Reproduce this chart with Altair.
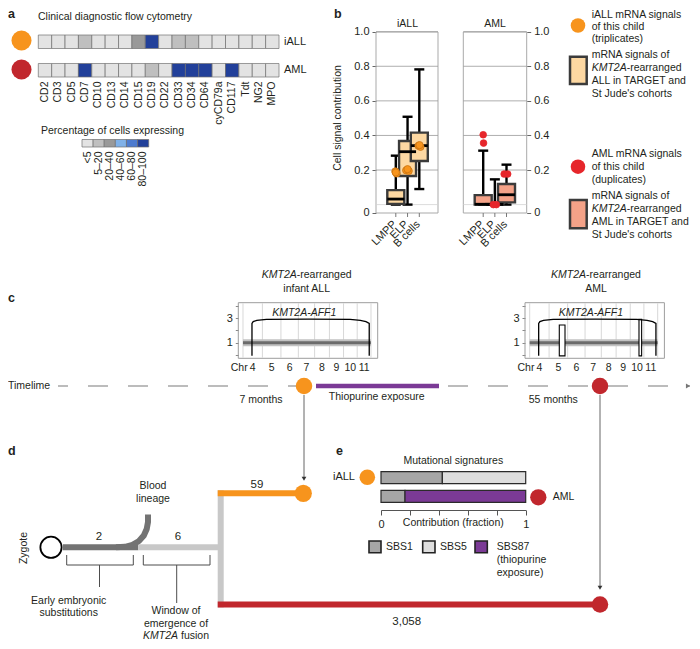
import math
import altair as alt
import pandas as pd

W, H = 684, 633          # drawing area (page has an 8px margin)
M = 8
FONT = "Liberation Sans"
INK = "#231f20"
ORANGE = "#f7941d"
RED = "#c1272d"
RED_B = "#e6262b"
PURPLE = "#7b3a96"

# ---------------------------------------------------------------- data
MARKERS = ["CD2", "CD3", "CD5", "CD7", "CD10", "CD13", "CD14", "CD15", "CD19", "CD22",
           "CD33", "CD34", "CD64", "cyCD79a", "CD117", "Tdt", "NG2", "MPO"]
FLOW_LEVELS = ["<5", "5–20", "20–40", "40–60", "60–80", "80–100"]
FLOW_COLORS = ["#e3e3e3", "#bfbfbf", "#999999", "#80b1e8", "#4d7bcf", "#22409a"]
FLOW_IALL = ["<5", "<5", "<5", "5–20", "<5", "<5", "<5", "20–40", "80–100", "<5",
             "5–20", "5–20", "<5", "<5", "<5", "<5", "<5", "<5"]
FLOW_AML = ["<5", "<5", "<5", "80–100", "<5", "<5", "<5", "<5", "5–20", "<5",
            "80–100", "80–100", "80–100", "<5", "80–100", "<5", "<5", "<5"]
SAMPLES = ["iALL", "AML"]

CELL_TYPES = ["LMPP", "ELP", "B cells"]
IALL_LO = [0.0, 0.0, 0.09]
IALL_Q1 = [0.004, 0.165, 0.252]
IALL_MED = [0.032, 0.306, 0.341]
IALL_Q3 = [0.084, 0.368, 0.416]
IALL_HI = [0.283, 0.508, 0.782]
AML_LO = [0.0, 0.0, 0.0]
AML_Q1 = [0.0, 0.0, 0.013]
AML_MED = [0.002, 0.001, 0.057]
AML_Q3 = [0.055, 0.003, 0.119]
AML_HI = [0.312, 0.146, 0.231]
IALL_PT_CELL = [0, 0, 0, 1, 1, 1, 2, 2, 2]
IALL_PT_VAL = [0.192, 0.180, 0.186, 0.198, 0.195, 0.205, 0.340, 0.334, 0.344]
IALL_PT_JIT = [-0.04, 0.06, 0.0, -0.12, 0.10, 0.0, -0.07, 0.10, 0.02]
AML_PT_CELL = [0, 0, 1, 1, 2, 2]
AML_PT_VAL = [0.404, 0.356, 0.0, 0.0, 0.177, 0.177]
AML_PT_JIT = [0.0, 0.03, -0.13, 0.13, -0.20, 0.10]
B_GRID = [0.2, 0.4, 0.6, 0.8, 1.0]

CHROMS = ["4", "5", "6", "7", "8", "9", "10", "11"]
CHROM_MB = [190.2, 181.5, 170.8, 159.3, 145.1, 138.4, 133.8, 135.1]
ARC_MB = [88, 88, 100, 135, 230, 640, 1050, 1150, 1205, 1237, 1237]
ARC_CN = [-0.08, 2.58, 2.72, 2.83, 2.90, 2.93, 2.90, 2.83, 2.72, 2.58, -0.08]
AML_SV_START = [290, 1071]
AML_SV_END = [346, 1097]
AML_SV_TOP = [2.45, 2.92]

SIGS = ["SBS1", "SBS5", "SBS87"]
SIG_COLORS = ["#a6a6a6", "#dedede", "#7b3a96"]
IALL_SIG = [0.424, 0.576, 0.0]
AML_SIG = [0.166, 0.0, 0.834]

TREE_COUNTS = [2, 6, 59, 3058]


def c(v):
    return v - M


# ------------------------------------------------ canvas helpers (layout)
def CX(f="x"):
    return alt.X(f"{f}:Q", scale=alt.Scale(domain=[M, M + W], range=[0, W], nice=False, zero=False), axis=None)


def CY(f="y"):
    return alt.Y(f"{f}:Q", scale=alt.Scale(domain=[M, M + H], range=[0, H], nice=False, zero=False), axis=None)


def text_layer(rows, align="left", size=10.5, style="normal", weight="normal", angle=0,
               color=INK, baseline="middle"):
    df = pd.DataFrame(rows, columns=["t", "x", "y"])
    return alt.Chart(df).mark_text(align=align, baseline=baseline, font=FONT, fontSize=size,
                                   fontStyle=style, fontWeight=weight, angle=angle,
                                   color=color).encode(x=CX(), y=CY(), text="t:N")


def seg_layer(rows, **kw):
    df = pd.DataFrame(rows, columns=["x", "y", "x2", "y2", "col", "w"])
    return alt.Chart(df).mark_rule(**kw).encode(
        x=CX(), y=CY(), x2="x2:Q", y2="y2:Q",
        color=alt.Color("col:N", scale=None),
        strokeWidth=alt.StrokeWidth("w:Q", scale=None))


def rect_layer(rows):
    df = pd.DataFrame(rows, columns=["x", "y", "x2", "y2", "fill", "stroke", "sw"])
    return alt.Chart(df).mark_rect().encode(
        x=CX(), y=CY(), x2="x2:Q", y2="y2:Q",
        fill=alt.Fill("fill:N", scale=None),
        stroke=alt.Stroke("stroke:N", scale=None),
        strokeWidth=alt.StrokeWidth("sw:Q", scale=None))


def dot_layer(rows, shape="circle"):
    df = pd.DataFrame(rows, columns=["x", "y", "r", "fill", "stroke", "sw"])
    df["s"] = math.pi * df["r"] ** 2
    return alt.Chart(df).mark_point(shape=shape, filled=True, opacity=1).encode(
        x=CX(), y=CY(),
        size=alt.Size("s:Q", scale=None),
        fill=alt.Fill("fill:N", scale=None),
        stroke=alt.Stroke("stroke:N", scale=None),
        strokeWidth=alt.StrokeWidth("sw:Q", scale=None))


# ---------------------------------------------------------------- panel a
flow_color = alt.Color("level:N", scale=alt.Scale(domain=FLOW_LEVELS, range=FLOW_COLORS), legend=None)
heat_df = pd.DataFrame({"marker": MARKERS * 2,
                        "sample": ["iALL"] * len(MARKERS) + ["AML"] * len(MARKERS),
                        "level": FLOW_IALL + FLOW_AML})
heat_x = alt.X("marker:N", scale=alt.Scale(domain=MARKERS, range=[c(38.3), c(279)],
                                           paddingInner=0, paddingOuter=0), axis=None)
heat_y = alt.Y("sample:N", scale=alt.Scale(domain=SAMPLES, range=[c(35), c(77)],
                                           paddingInner=0.526, paddingOuter=0), axis=None)
heat_cells = alt.Chart(heat_df).mark_rect(stroke="#707070", strokeWidth=0.7).encode(
    x=heat_x, y=heat_y, color=flow_color)
heat_marker_lbl = alt.Chart(pd.DataFrame({"marker": MARKERS})).mark_text(
    angle=270, align="right", baseline="middle", font=FONT, fontSize=10.5, color=INK).encode(
    x=heat_x, y=alt.value(c(81.5)), text="marker:N")
heat_row_lbl = alt.Chart(pd.DataFrame({"sample": SAMPLES})).mark_text(
    align="left", baseline="middle", font=FONT, fontSize=11, color=INK).encode(
    x=alt.value(c(284)), y=heat_y, text="sample:N")
heat = alt.layer(heat_cells, heat_marker_lbl, heat_row_lbl)

leg_x = alt.X("level:N", scale=alt.Scale(domain=FLOW_LEVELS, range=[c(82), c(148.7)],
                                         paddingInner=0, paddingOuter=0), axis=None)
leg_df = pd.DataFrame({"level": FLOW_LEVELS})
heat_leg = alt.layer(
    alt.Chart(leg_df).mark_rect(stroke="#707070", strokeWidth=0.7).encode(
        x=leg_x, y=alt.value(c(139.5)), y2=alt.value(c(147)), color=flow_color),
    alt.Chart(leg_df).mark_text(angle=270, align="right", baseline="middle", font=FONT,
                                fontSize=10.5, color=INK).encode(
        x=leg_x, y=alt.value(c(151.5)), text="level:N"),
)

# ---------------------------------------------------------------- panel b
YB = alt.Scale(domain=[-0.048, 1.0], range=[c(212.9), c(31.7)], nice=False, zero=False)


def box_panel(lo, q1, med, q3, hi, pc, pv, pj, xr, frame_x, fill, pfill, pstroke, psize):
    xs = alt.Scale(domain=[0, 2], range=xr, nice=False, zero=False)
    bdf = pd.DataFrame({"i": [0, 1, 2], "cell": CELL_TYPES, "lo": lo, "q1": q1,
                        "med": med, "q3": q3, "hi": hi})
    X = alt.X("i:Q", scale=xs, axis=None)

    def Y(f):
        return alt.Y(f"{f}:Q", scale=YB, axis=None)

    grid = alt.Chart(pd.DataFrame({"v": B_GRID})).mark_rule(color="#9a9a9a", strokeWidth=0.8).encode(
        y=Y("v"), x=alt.value(c(frame_x[0])), x2=alt.value(c(frame_x[1])))
    zero = alt.Chart(pd.DataFrame({"v": [0.0]})).mark_rule(color="#d2d2d2", strokeWidth=0.8).encode(
        y=Y("v"), x=alt.value(c(frame_x[0])), x2=alt.value(c(frame_x[1])))
    xt = alt.Chart(bdf).mark_rule(color="#777", strokeWidth=1).encode(
        x=X, y=alt.value(c(213)), y2=alt.value(c(217)))
    whisk = alt.Chart(bdf).mark_rule(color="black", strokeWidth=2.4).encode(x=X, y=Y("lo"), y2="hi:Q")
    cap_lo = alt.Chart(bdf).mark_tick(orient="horizontal", size=10, thickness=2.4, color="black",
                                      opacity=1).encode(x=X, y=Y("lo"))
    cap_hi = alt.Chart(bdf).mark_tick(orient="horizontal", size=10, thickness=2.4, color="black",
                                      opacity=1).encode(x=X, y=Y("hi"))
    box = alt.Chart(bdf).mark_bar(width=17, fill=fill, stroke="#3b3b3b", strokeWidth=2.4).encode(
        x=X, y=Y("q1"), y2="q3:Q")
    medt = alt.Chart(bdf).mark_tick(orient="horizontal", size=17, thickness=2.8, color="black",
                                    opacity=1).encode(x=X, y=Y("med"))
    pdf = pd.DataFrame({"xi": [a + b for a, b in zip(pc, pj)], "v": pv})
    dots = alt.Chart(pdf).mark_circle(size=psize, color=pfill, stroke=pstroke, strokeWidth=0.8,
                                      opacity=1).encode(x=alt.X("xi:Q", scale=xs, axis=None), y=Y("v"))
    lbl = alt.Chart(bdf).mark_text(angle=315, align="right", baseline="middle", font=FONT,
                                   fontSize=11, color=INK, dx=-1).encode(
        x=X, y=alt.value(c(222)), text="cell:N")
    return alt.layer(zero, grid, xt, whisk, cap_lo, cap_hi, box, medt, dots, lbl)


box_iall = box_panel(IALL_LO, IALL_Q1, IALL_MED, IALL_Q3, IALL_HI, IALL_PT_CELL, IALL_PT_VAL,
                     IALL_PT_JIT, [c(390.8), c(424.3)], (376, 438), "#fdd8a2", ORANGE, "#c97412", 52)
box_aml = box_panel(AML_LO, AML_Q1, AML_MED, AML_Q3, AML_HI, AML_PT_CELL, AML_PT_VAL,
                    AML_PT_JIT, [c(478.2), c(511.5)], (463.3, 526.7), "#f4a288", RED_B, RED_B, 45)


def y_axis_carrier(scale, values, orient, offset, label_expr, tick_size, tick_color):
    df = pd.DataFrame({"v": [values[0]]})
    return alt.Chart(df).mark_rule(opacity=0).encode(
        y=alt.Y("v:Q", scale=scale, axis=alt.Axis(
            orient=orient, offset=offset, values=values, labelExpr=label_expr,
            tickSize=tick_size, tickColor=tick_color, tickWidth=1, domain=False, grid=False,
            title="", labelFont=FONT, labelFontSize=11, labelColor=INK, labelPadding=3)))


B_VALUES = [-0.0479, 0.2, 0.4, 0.6, 0.8, 1.0]
B_EXPR = "datum.value < 0 ? '0' : format(datum.value, '.1f')"
b_axis_left = y_axis_carrier(YB, B_VALUES, "left", -c(376), B_EXPR, 4, "#666")
b_axis_right = y_axis_carrier(YB, B_VALUES, "right", c(526.7) - W, B_EXPR, 4, "#666")

# ---------------------------------------------------------------- panel c
starts, acc = [], 0.0
for L in CHROM_MB:
    starts.append(acc)
    acc += L
TOTAL_MB = acc
CN_Y = alt.Scale(domain=[-0.28, 4.27], range=[c(358.3), c(302.7)], nice=False, zero=False)
CN_X_DOMAIN = [-46, 1320]


def cn_panel(x0, sv_start, sv_end, sv_top):
    xs = alt.Scale(domain=CN_X_DOMAIN, range=[c(x0), c(x0 + 139.4)], nice=False, zero=False)

    def X(f):
        return alt.X(f"{f}:Q", scale=xs, axis=None)

    def Y(f):
        return alt.Y(f"{f}:Q", scale=CN_Y, axis=None)

    frame = alt.Chart(pd.DataFrame({"a": [CN_X_DOMAIN[0]], "b": [CN_X_DOMAIN[1]],
                                    "lo": [-0.28], "hi": [4.27]})).mark_rect(
        fill="transparent", stroke="#9d9d9d", strokeWidth=1).encode(
        x=X("a"), x2="b:Q", y=Y("lo"), y2="hi:Q")
    bnd = alt.Chart(pd.DataFrame({"b": starts + [TOTAL_MB]})).mark_rule(
        color="#d8d8d8", strokeWidth=1).encode(x=X("b"), y=alt.value(c(303.2)), y2=alt.value(c(357.8)))
    base_df = pd.DataFrame({"a": [0.0], "b": [TOTAL_MB], "cn": [1.0]})
    band = alt.Chart(base_df).mark_rule(color="#c2c2c2", strokeWidth=7).encode(x=X("a"), x2="b:Q", y=Y("cn"))
    line = alt.Chart(base_df).mark_rule(color="#6b6b6b", strokeWidth=3).encode(x=X("a"), x2="b:Q", y=Y("cn"))
    layers = [frame, bnd, band, line]
    if sv_start:
        sv = pd.DataFrame({"a": sv_start, "b": sv_end, "lo": [-0.08] * len(sv_start), "hi": sv_top})
        layers.append(alt.Chart(sv).mark_rect(fill="white", stroke="black", strokeWidth=1.1).encode(
            x=X("a"), x2="b:Q", y=Y("lo"), y2="hi:Q"))
    arc = pd.DataFrame({"k": range(len(ARC_MB)), "mb": ARC_MB, "cn": ARC_CN})
    layers.append(alt.Chart(arc).mark_line(color="black", strokeWidth=1.3).encode(
        x=X("mb"), y=Y("cn"), order="k:Q"))
    layers.append(alt.Chart(pd.DataFrame({"mb": [600.0], "cn": [3.46], "t": ["KMT2A-AFF1"]})).mark_text(
        font=FONT, fontSize=10.5, fontStyle="italic", color=INK, baseline="middle").encode(
        x=X("mb"), y=Y("cn"), text="t:N"))
    mids = [s + L / 2 for s, L in zip(starts, CHROM_MB)]
    cdf = pd.DataFrame({"mb": mids, "t": CHROMS})
    layers.append(alt.Chart(cdf).mark_text(font=FONT, fontSize=10.5, color=INK, baseline="middle").encode(
        x=X("mb"), y=alt.value(c(367.7)), text="t:N"))
    layers.append(alt.Chart(pd.DataFrame({"mb": [mids[0]], "t": ["Chr"]})).mark_text(
        font=FONT, fontSize=10.5, color=INK, baseline="middle", align="right", dx=-5).encode(
        x=X("mb"), y=alt.value(c(367.7)), text="t:N"))
    return alt.layer(*layers)


cn_left = cn_panel(238.3, [], [], [])
cn_right = cn_panel(525.0, AML_SV_START, AML_SV_END, AML_SV_TOP)
CN_EXPR = "(datum.value == 1 || datum.value == 3) ? datum.label : ''"
cn_axis_left = y_axis_carrier(CN_Y, [0, 1, 2, 3, 4], "left", -c(238.3), CN_EXPR, 3, "#888")
cn_axis_right = y_axis_carrier(CN_Y, [0, 1, 2, 3, 4], "left", -c(525.0), CN_EXPR, 3, "#888")

# ---------------------------------------------------------------- panel e
SIG_X = alt.Scale(domain=[0, 1], range=[c(381), c(525.7)], nice=False, zero=False)
SIG_Y = alt.Scale(domain=SAMPLES, range=[c(471.7), c(502.3)], paddingInner=0.355, paddingOuter=0)
sig_rows = []
for s, fr in (("iALL", IALL_SIG), ("AML", AML_SIG)):
    for k, (g, f) in enumerate(zip(SIGS, fr)):
        sig_rows.append({"sample": s, "sig": g, "frac": f, "k": k})
sig_df = pd.DataFrame(sig_rows)
sig_bars = alt.Chart(sig_df).transform_filter("datum.frac > 0").mark_bar(
    stroke="#2b2b2b", strokeWidth=1.2).encode(
    x=alt.X("frac:Q", stack="zero", scale=SIG_X, axis=None),
    y=alt.Y("sample:N", scale=SIG_Y, axis=None),
    color=alt.Color("sig:N", scale=alt.Scale(domain=SIGS, range=SIG_COLORS), legend=None),
    order=alt.Order("k:Q"))
sig_axis = alt.Chart(pd.DataFrame({"v": [0.0]})).mark_rule(opacity=0).encode(
    x=alt.X("v:Q", scale=SIG_X, axis=alt.Axis(
        orient="bottom", offset=c(510) - H, values=[0, 0.2, 0.4, 0.6, 0.8, 1.0],
        labelExpr="datum.value == 0 ? '0' : (datum.value == 1 ? '1' : '')",
        tickSize=5, tickColor="#555", domainColor="#555", grid=False, title="",
        labelFont=FONT, labelFontSize=11, labelColor=INK, labelPadding=3, labelFlush=False)))

# ---------------------------------------------------------------- canvas: back
timeline = alt.Chart(pd.DataFrame({"x": [58], "x2": [690], "y": [386]})).mark_rule(
    color="#7a7a7a", strokeWidth=1.2, strokeDash=[20, 20], strokeDashOffset=10).encode(
    x=CX(), x2="x2:Q", y=CY())
back_segs = seg_layer([
    (316, 386, 439, 386, PURPLE, 4.5),
    (304, 395, 304, 478, "#666666", 1),
    (600, 395, 600, 587, "#666666", 1),
    (63, 547.3, 138.3, 547.3, "#737373", 6),
    (138.3, 547.3, 221, 547.3, "#c8c8c8", 6),
    (220.7, 490.3, 220.7, 607.5, "#c8c8c8", 6),
    (217.7, 493.3, 303.3, 493.3, ORANGE, 6),
    (217.7, 604.5, 600, 604.5, RED, 6),
    (66.7, 555, 66.7, 565, "#4d4d4d", 1), (133.3, 555, 133.3, 565, "#4d4d4d", 1),
    (66.7, 565, 133.3, 565, "#4d4d4d", 1), (99.5, 565, 99.5, 587, "#4d4d4d", 1),
    (143.3, 555, 143.3, 565, "#4d4d4d", 1), (210, 555, 210, 565, "#4d4d4d", 1),
    (143.3, 565, 210, 565, "#4d4d4d", 1), (176.7, 565, 176.7, 603, "#4d4d4d", 1),
], strokeCap="butt")
curve_df = pd.DataFrame({"k": range(8),
                         "x": [116, 125, 132.5, 139, 143.8, 146.7, 148, 148],
                         "y": [547.3, 546.8, 544.8, 541.0, 535.5, 529.0, 522.0, 514.5]})
blood_curve = alt.Chart(curve_df).mark_line(color="#737373", strokeWidth=6, strokeCap="butt").encode(
    x=CX(), y=CY(), order="k:Q")
b_frames = rect_layer([
    (376, 32, 438, 213, "transparent", "#a9a9a9", 1),
    (463.3, 32, 526.7, 213, "transparent", "#a9a9a9", 1),
])
canvas_back = alt.layer(timeline, back_segs, blood_curve, b_frames)

# ---------------------------------------------------------------- canvas: front
circles = dot_layer([
    (21.5, 40.5, 11.3, ORANGE, ORANGE, 0), (21.5, 69.5, 11.3, RED, RED, 0),
    (578, 25.5, 8.2, ORANGE, ORANGE, 0), (578, 166.7, 8.2, RED_B, RED_B, 0),
    (304, 386, 9.3, ORANGE, ORANGE, 0), (600, 386, 9.3, RED, RED, 0),
    (303.3, 493.3, 9.7, ORANGE, ORANGE, 0), (600, 604.5, 9.3, RED, RED, 0),
    (367.3, 477.3, 8.8, ORANGE, ORANGE, 0), (538.3, 497.3, 9.2, RED, RED, 0),
    (51, 547.3, 12.0, "white", "black", 1.8),
])
arrows_down = dot_layer([(304, 478.8, 2.7, "#333", "#333", 0), (600, 587.8, 2.7, "#333", "#333", 0)],
                        shape="triangle-down")
arrow_right = dot_layer([(688, 386, 2.7, "#777", "#777", 0)], shape="triangle-right")
front_rects = rect_layer([
    (570, 56.7, 586.7, 84, "#fdd8a2", "#3b3b3b", 2.5),
    (570, 200, 586.7, 228.3, "#f4a288", "#3b3b3b", 2.5),
    (369, 541, 381, 552.7, SIG_COLORS[0], "#222222", 1.6),
    (422.7, 541, 435, 552.7, SIG_COLORS[1], "#222222", 1.6),
    (475, 541, 487.3, 552.7, SIG_COLORS[2], "#222222", 1.6),
])

counts = [f"{v:,}" for v in TREE_COUNTS]
texts_left = text_layer([
    ("Clinical diagnostic flow cytometry", 38, 17),
    ("Percentage of cells expressing", 41, 131),
    ("iALL mRNA signals", 591.7, 15), ("of this child", 591.7, 27), ("(triplicates)", 591.7, 39),
    ("mRNA signals of", 591.7, 54.7), ("-rearranged", 626.7, 67.7),
    ("ALL in TARGET and", 591.7, 80.7), ("St Jude's cohorts", 591.7, 93.7),
    ("AML mRNA signals", 591.7, 154), ("of this child", 591.7, 166.7), ("(duplicates)", 591.7, 179.7),
    ("mRNA signals of", 591.7, 196), ("-rearranged", 626.7, 209),
    ("AML in TARGET and", 591.7, 222), ("St Jude's cohorts", 591.7, 235),
    ("-rearranged", 296.75, 275), ("-rearranged", 586.05, 275),
    ("Timelime", 8, 386),
    ("fusion", 181, 636),
    ("AML", 552.7, 497.3),
    ("SBS1", 386, 547), ("SBS5", 440, 547), ("SBS87", 496.7, 547.3),
    ("(thiopurine", 496.7, 560), ("exposure)", 496.7, 572.7),
])
texts_left_it = text_layer([
    ("KMT2A", 591.7, 67.7), ("KMT2A", 591.7, 209), ("KMT2A", 261.75, 275), ("KMT2A", 551.05, 275),
], style="italic")
texts_right_it = text_layer([("KMT2A", 178, 636)], align="right", style="italic")
texts_center = text_layer([
    ("iALL", 407.5, 24), ("AML", 495, 24),
    ("infant ALL", 306.7, 289), ("AML", 596, 289),
    ("7 months", 261, 400), ("Thiopurine exposure", 376.7, 397.3), ("55 months", 553.3, 400),
    ("Blood", 153, 486), ("lineage", 153, 499),
    ("Early embryonic", 68.7, 601), ("substitutions", 68.7, 613.3),
    ("Window of", 176, 611), ("emergence of", 176, 623.5),
    ("Mutational signatures", 453.3, 461), ("Contribution (fraction)", 453.3, 522.7),
], align="center")
texts_counts = text_layer([
    (counts[0], 99, 537), (counts[1], 178, 537), (counts[2], 257, 485), (counts[3], 406.7, 621.7),
], align="center", size=11.5)
texts_right = text_layer([("iALL", 355, 477.3)], align="right", size=11)
texts_rot = text_layer([("Cell signal contribution", 338, 118), ("Zygote", 24, 548)],
                       align="center", angle=270)
letters_top = text_layer([("a", 8, 8), ("b", 334, 8)], size=12.5, weight="bold", baseline="top")
letters_mid = text_layer([("c", 8, 298), ("d", 8, 451), ("e", 336, 451)], size=12.5, weight="bold")

canvas_front = alt.layer(circles, arrows_down, arrow_right, front_rects, texts_left, texts_left_it,
                         texts_right_it, texts_center, texts_counts, texts_right, texts_rot,
                         letters_top, letters_mid)

# ---------------------------------------------------------------- compose
chart = alt.layer(
    canvas_back,
    heat, heat_leg,
    box_iall, box_aml, b_axis_left, b_axis_right,
    cn_left, cn_right, cn_axis_left, cn_axis_right,
    sig_bars, sig_axis,
    canvas_front,
).resolve_scale(
    x="independent", y="independent", color="independent"
).properties(
    width=W, height=H, autosize=alt.AutoSizeParams(type="none"), padding=0, background="white"
).configure_view(stroke=None)

chart.save("out.html", embed_options={"renderer": "svg", "actions": False})
